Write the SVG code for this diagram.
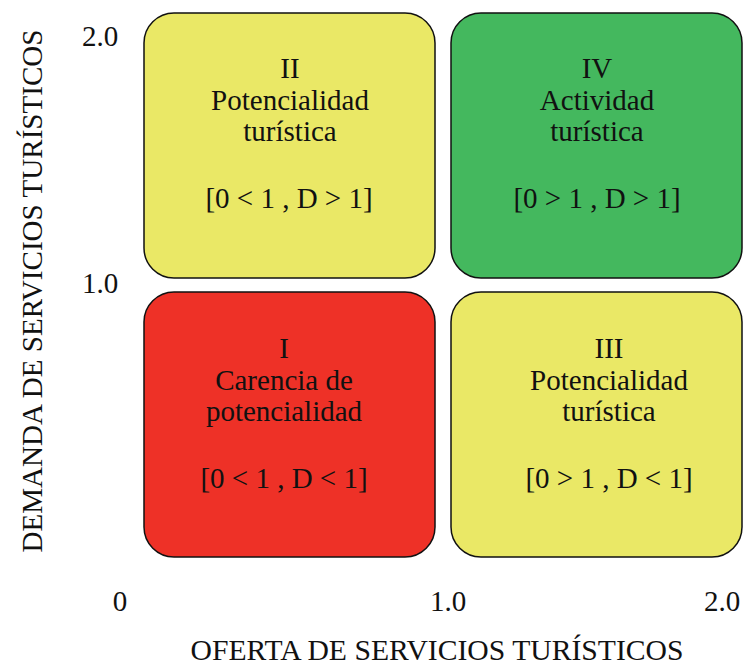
<svg xmlns="http://www.w3.org/2000/svg" width="745" height="665" viewBox="0 0 745 665">
<style>
text{font-family:"Liberation Serif","Times New Roman",serif;font-size:29px;fill:#111;}
.c{text-anchor:middle;}
.box{stroke:#111;stroke-width:1.5;}
.y{fill:#EAE866;}
.g{fill:#44B85E;}
.r{fill:#EE3127;}
</style>
<rect width="745" height="665" fill="#fff"/>
<g id="quadrant-II">
<rect class="box y" x="144" y="13" width="291" height="265" rx="30"/>
<text class="c" x="290" y="78">II</text>
<text class="c" x="290" y="110">Potencialidad</text>
<text class="c" x="290" y="141">turística</text>
<text class="c" x="289" y="208">[0 &lt; 1 , D &gt; 1]</text>
</g>
<g id="quadrant-IV">
<rect class="box g" x="451" y="13" width="291" height="265" rx="30"/>
<text class="c" x="597" y="78">IV</text>
<text class="c" x="597" y="110">Actividad</text>
<text class="c" x="597" y="141">turística</text>
<text class="c" x="597" y="208">[0 &gt; 1 , D &gt; 1]</text>
</g>
<g id="quadrant-I">
<rect class="box r" x="144" y="292" width="291" height="265" rx="30"/>
<text class="c" x="284" y="358">I</text>
<text class="c" x="284" y="390">Carencia de</text>
<text class="c" x="284" y="421">potencialidad</text>
<text class="c" x="284" y="488">[0 &lt; 1 , D &lt; 1]</text>
</g>
<g id="quadrant-III">
<rect class="box y" x="451" y="292" width="291" height="265" rx="30"/>
<text class="c" x="609" y="358">III</text>
<text class="c" x="609" y="390">Potencialidad</text>
<text class="c" x="609" y="421">turística</text>
<text class="c" x="609" y="488">[0 &gt; 1 , D &lt; 1]</text>
</g>
<g id="axes">
<text class="c" x="100" y="46">2.0</text>
<text class="c" x="100" y="293">1.0</text>
<text class="c" x="120" y="611">0</text>
<text class="c" x="448" y="611">1.0</text>
<text class="c" x="722" y="611">2.0</text>
<text class="c" x="437" y="660" textLength="493" lengthAdjust="spacingAndGlyphs">OFERTA DE SERVICIOS TURÍSTICOS</text>
<text class="c" transform="translate(42,291) rotate(-90)" textLength="523" lengthAdjust="spacingAndGlyphs">DEMANDA DE SERVICIOS TURÍSTICOS</text>
</g>
</svg>
